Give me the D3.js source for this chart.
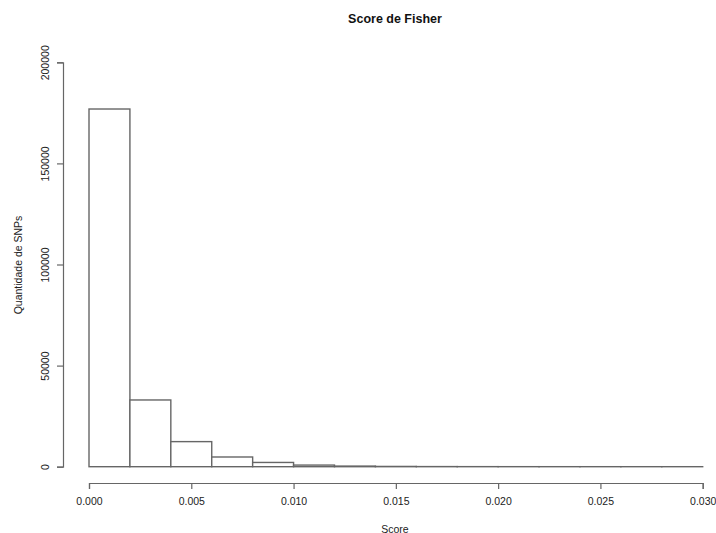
<!DOCTYPE html>
<html>
<head>
<meta charset="utf-8">
<script src="https://cdn.jsdelivr.net/npm/d3@7"></script>
<style>
  html, body { margin: 0; padding: 0; background: #fff; }
  svg { display: block; font-family: "Liberation Sans", Arial, Helvetica, sans-serif; }
</style>
</head>
<body>
<svg id="chart" width="716" height="533"></svg>
<script>
// Data: histogram bin edges and counts
const binStarts = [0.000, 0.002, 0.004, 0.006, 0.008, 0.010, 0.012, 0.014, 0.016, 0.018, 0.020, 0.022, 0.024, 0.026, 0.028];
const binWidth = 0.002;
const counts = [176900, 33000, 12400, 4800, 2100, 800, 300, 130, 60, 30, 15, 8, 4, 2, 1];
const xTicks = [0.000, 0.005, 0.010, 0.015, 0.020, 0.025, 0.030];
const yTicks = [0, 50000, 100000, 150000, 200000];
const title = "Score de Fisher";
const xLabel = "Score";
const yLabel = "Quantidade de SNPs";

const svg = d3.select("#chart");
const x = d3.scaleLinear().domain([0, 0.030]).range([89, 702.7]);
const y = d3.scaleLinear().domain([0, 200000]).range([466.7, 62.3]);
const lineColor = "#666";

// bars
svg.append("g").selectAll("rect").data(binStarts).join("rect")
  .attr("x", d => x(d))
  .attr("width", (d) => x(d + binWidth) - x(d))
  .attr("y", (d, i) => y(counts[i]))
  .attr("height", (d, i) => y(0) - y(counts[i]))
  .attr("fill", "#fff")
  .attr("stroke", lineColor)
  .attr("stroke-width", 1.4);

// x axis
const xAxis = d3.axisBottom(x).tickValues(xTicks).tickFormat(d3.format(".3f")).tickSize(6).tickPadding(9);
const gx = svg.append("g").attr("transform", "translate(0,483)").call(xAxis);
gx.select(".domain").attr("stroke", lineColor).attr("stroke-width", 1.2);
gx.selectAll(".tick line").attr("stroke", lineColor).attr("stroke-width", 1.2);
gx.selectAll(".tick text").attr("font-size", 10.5).attr("fill", "#222")
  .attr("font-family", "Liberation Sans, Arial, sans-serif");

// y axis
const yAxis = d3.axisLeft(y).tickValues(yTicks).tickFormat(d3.format("d")).tickSize(6).tickPadding(0);
const gy = svg.append("g").attr("transform", "translate(63,0)").call(yAxis);
gy.select(".domain").attr("stroke", lineColor).attr("stroke-width", 1.2);
gy.selectAll(".tick line").attr("stroke", lineColor).attr("stroke-width", 1.2);
gy.selectAll(".tick text")
  .attr("font-size", 10.5).attr("fill", "#222")
  .attr("font-family", "Liberation Sans, Arial, sans-serif")
  .attr("x", null).attr("dy", null)
  .attr("text-anchor", "middle")
  .attr("transform", "translate(-14,0) rotate(-90)");

// title
svg.append("text").attr("x", 395).attr("y", 23)
  .attr("text-anchor", "middle").attr("font-weight", "bold").attr("font-size", 12.5)
  .attr("fill", "#111").text(title);

// axis labels
svg.append("text").attr("x", 395).attr("y", 533)
  .attr("text-anchor", "middle").attr("font-size", 10.5).attr("fill", "#222").text(xLabel);
svg.append("text").attr("transform", "translate(22,265) rotate(-90)")
  .attr("text-anchor", "middle").attr("font-size", 10.5).attr("fill", "#222").text(yLabel);
</script>
</body>
</html>
